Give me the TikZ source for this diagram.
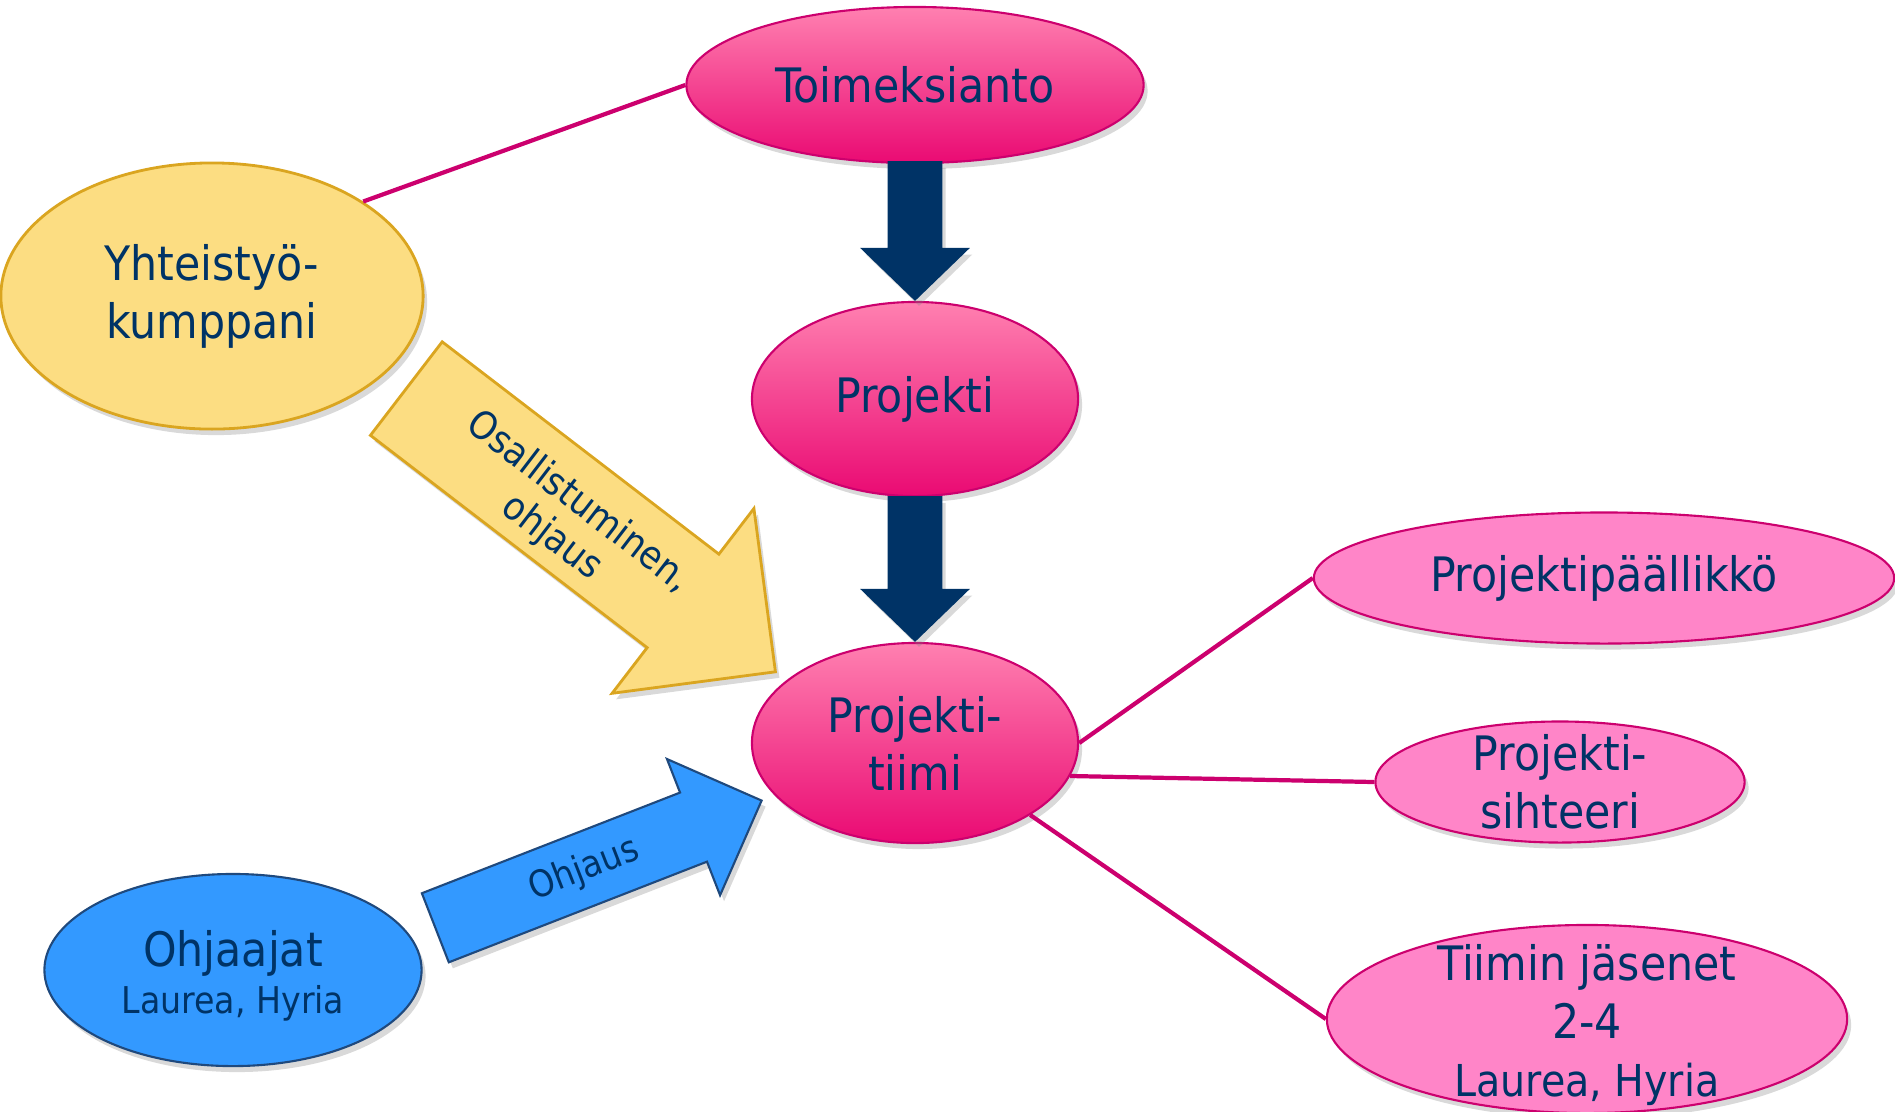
\documentclass[tikz,border=0pt]{standalone}
\usepackage{fontspec}
\setmainfont{DejaVu Sans Condensed}
\usepackage{tikz}
\usetikzlibrary{shapes.geometric}
\usetikzlibrary{shapes.arrows}
\usetikzlibrary{shadows}

\definecolor{textnavy}{RGB}{0,51,102}
\definecolor{pinktop}{RGB}{255,128,176}
\definecolor{pinkbottom}{RGB}{234,10,115}
\definecolor{pinkflat}{RGB}{255,133,200}
\definecolor{pinkline}{RGB}{204,0,110}
\definecolor{sunfill}{RGB}{252,221,130}
\definecolor{sunline}{RGB}{218,165,32}
\definecolor{skyfill}{RGB}{51,153,255}
\definecolor{skyline}{RGB}{31,73,125}

\tikzset{
   softshadow/.style={drop shadow={opacity=.3, shadow xshift=.04cm, shadow yshift=-.06cm}},
   bigtext/.style={text=textnavy, align=center, font=\fontsize{13.5}{16.5}\selectfont},
   smalltext/.style={text=textnavy, align=center, font=\fontsize{11}{12.5}\selectfont},
   hub/.style={ellipse, draw=pinkline, line width=.6pt, top color=pinktop, bottom color=pinkbottom, softshadow, bigtext, inner sep=0pt},
   role/.style={ellipse, draw=pinkline, line width=.6pt, fill=pinkflat, softshadow, bigtext, inner sep=0pt},
   partner/.style={ellipse, draw=sunline, line width=.8pt, fill=sunfill, softshadow, bigtext, inner sep=0pt},
   mentor/.style={ellipse, draw=skyline, line width=.6pt, fill=skyfill, softshadow, bigtext, inner sep=0pt},
   blockdown/.style={single arrow, draw=textnavy, fill=textnavy, rotate=-90, minimum width=1.05cm,
      inner xsep=0pt, inner ysep=.26cm, single arrow head extend=.265cm, single arrow tip angle=92,
      anchor=tip, softshadow},
   link/.style={draw=pinkline, line width=1.2pt}
}

\begin{document}
\begin{tikzpicture}[x=0.01cm, y=-0.01cm]
   \useasboundingbox (0,0) rectangle (1895,1111);

   \node[hub, minimum width=4.57cm, minimum height=1.56cm] (toim) at (915,85) {Toimeksianto};
   \node[partner, minimum width=4.22cm, minimum height=2.66cm] (yht) at (212,296) {Yhteistyö-\\kumppani};
   \node[hub, minimum width=3.26cm, minimum height=1.94cm] (proj) at (915,399) {Projekti};
   \node[hub, minimum width=3.26cm, minimum height=2.0cm] (tiimi) at (915,743) {Projekti-\\tiimi};

   \node[role, minimum width=5.8cm, minimum height=1.31cm] (ppl) at (1604,578) {Projektipäällikkö};
   \node[role, minimum width=3.69cm, minimum height=1.21cm,
      label={[bigtext]center:{Projekti-\\sihteeri}}] (siht) at (1560,782) {};
   \node[role, minimum width=5.2cm, minimum height=1.88cm,
      label={[bigtext, yshift=-.06cm]center:{Tiimin jäsenet\\2-4\\{\fontsize{12.5}{16}\selectfont Laurea, Hyria}}}] (tiimin) at (1587,1019) {};

   \node[mentor, minimum width=3.77cm, minimum height=1.92cm,
      label={[bigtext, yshift=-.06cm]center:{Ohjaajat\\[-3pt]{\fontsize{10.5}{13}\selectfont Laurea, Hyria}}}] (ohj) at (233,970) {};

   \node[blockdown, minimum height=1.38cm] (downA) at (proj.north) {};
   \node[blockdown, minimum height=1.44cm] (downB) at (tiimi.north) {};

   \node[single arrow, draw=sunline, line width=.8pt, fill=sunfill, rotate=-37.5, anchor=tip,
      minimum height=4.65cm, minimum width=2.3cm, inner xsep=0pt, inner ysep=.575cm,
      single arrow head extend=.575cm, single arrow tip angle=90, softshadow] (joinarrow) at (777,673) {};
   \node[smalltext, rotate=-37.5] (joinlabel) at (565,520) {Osallistuminen,\\ohjaus};

   \node[single arrow, draw=skyline, line width=.6pt, fill=skyfill, rotate=21.3, anchor=tip,
      minimum height=3.5cm, minimum width=1.44cm, inner xsep=0pt, inner ysep=.36cm,
      single arrow head extend=.36cm, single arrow tip angle=90, softshadow] (guidearrow) at (763,800) {};
   \node[smalltext, font=\fontsize{10.5}{12.5}\selectfont, rotate=21.3] (guidelabel) at (584,870) {Ohjaus};

   \draw[link] (yht.32) -- (toim.west);
   \draw[link] (tiimi.east) -- (ppl.west);
   \draw[link] (tiimi.-12) -- (siht.west);
   \draw[link] (tiimi.-32) -- (tiimin.west);
\end{tikzpicture}
\end{document}
